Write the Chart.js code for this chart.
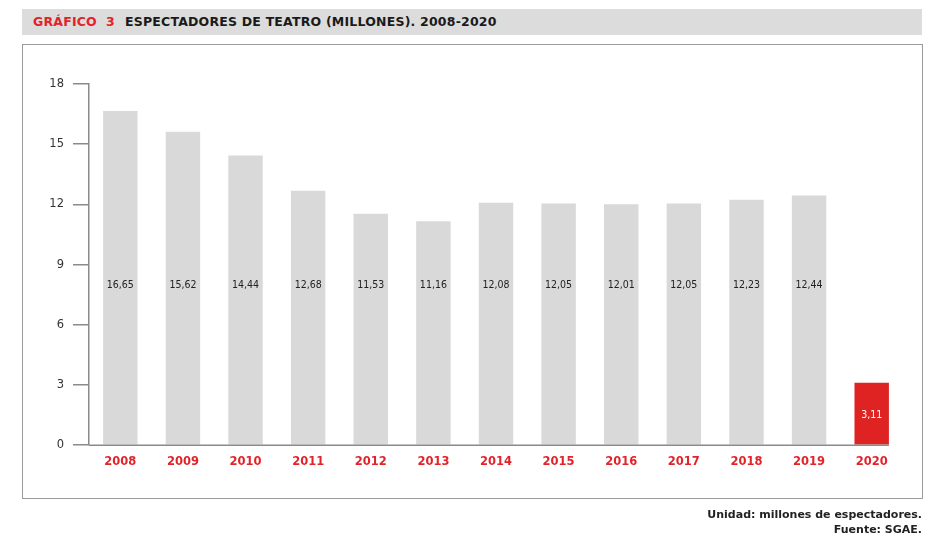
<!DOCTYPE html>
<html>
<head>
<meta charset="utf-8">
<script src="https://cdn.jsdelivr.net/npm/chart.js@4.4.0/dist/chart.umd.min.js"></script>
<style>
  body { margin: 0; width: 945px; height: 540px; background: #fff; position: relative; font-family: "DejaVu Sans", sans-serif; overflow: hidden; }
  #title { position: absolute; left: 22px; top: 9px; width: 900px; height: 26px; background: #dcdcdc; }
  #title span { position: absolute; top: 5px; font-size: 12.5px; font-weight: bold; letter-spacing: 0.2px; }
  #box { position: absolute; left: 22px; top: 44px; height: 455px; border: 1px solid #9a9a9a; box-sizing: border-box; width: 901px; }
  #chart { position: absolute; left: 0; top: 0; }
  #foot { position: absolute; right: 23px; top: 507px; text-align: right; font-size: 11px; line-height: 15px; color: #222; font-weight: 600; }
</style>
</head>
<body>
<div id="title">
  <span style="left:11px;color:#e2232a">GRÁFICO&nbsp;&nbsp;3</span>
  <span style="left:103px;color:#1a1a1a">ESPECTADORES DE TEATRO (MILLONES). 2008-2020</span>
</div>
<div id="box"></div>
<canvas id="chart" width="945" height="540"></canvas>
<div id="foot">Unidad: millones de espectadores.<br>Fuente: SGAE.</div>
<script>
// Data
const years = ["2008", "2009", "2010", "2011", "2012", "2013", "2014", "2015", "2016", "2017", "2018", "2019", "2020"];
const spectators = [16.65, 15.62, 14.44, 12.68, 11.53, 11.16, 12.08, 12.05, 12.01, 12.05, 12.23, 12.44, 3.11];
const yTicks = [0, 3, 6, 9, 12, 15, 18];

const gray = "#d9d9d9";
const red = "#de2322";
const barColors = years.map((y) => (y === "2020" ? red : gray));

// Value labels: fixed height, or inside the bar if it's too short
const valueLabels = {
  id: "valueLabels",
  afterDatasetsDraw(chart) {
    const ctx = chart.ctx;
    const yScale = chart.scales.y;
    const meta = chart.getDatasetMeta(0);
    ctx.save();
    ctx.font = "10.5px 'DejaVu Sans Condensed', 'DejaVu Sans', sans-serif";
    ctx.textAlign = "center";
    ctx.textBaseline = "middle";
    meta.data.forEach((bar, i) => {
      const v = spectators[i];
      let y = yScale.getPixelForValue(7.95);
      let color = "#222";
      if (v < 9) {
        y = (bar.y + bar.base) / 2 + 2;
        color = "#fff";
      }
      ctx.fillStyle = color;
      ctx.fillText(v.toFixed(2).replace(".", ","), bar.x, y);
    });
    ctx.restore();
  },
};

// Bottom axis line that stops at the last bar
const baseLine = {
  id: "baseLine",
  afterDatasetsDraw(chart) {
    const ctx = chart.ctx;
    const meta = chart.getDatasetMeta(0);
    const last = meta.data[meta.data.length - 1];
    const y0 = chart.scales.y.getPixelForValue(0);
    ctx.save();
    ctx.strokeStyle = "#8a8a8a";
    ctx.lineWidth = 1.5;
    ctx.beginPath();
    ctx.moveTo(chart.chartArea.left, y0);
    ctx.lineTo(last.x + last.width / 2, y0);
    ctx.stroke();
    ctx.restore();
  },
};

new Chart(document.getElementById("chart").getContext("2d"), {
  type: "bar",
  data: {
    labels: years,
    datasets: [
      {
        data: spectators,
        backgroundColor: barColors,
        barPercentage: 0.55,
        categoryPercentage: 1,
      },
    ],
  },
  options: {
    responsive: false,
    animation: false,
    layout: { padding: { left: 30, right: 42, top: 84, bottom: 69 } },
    plugins: { legend: { display: false }, tooltip: { enabled: false } },
    scales: {
      x: {
        grid: { display: false },
        border: { display: false },
        ticks: {
          color: "#e2232a",
          font: { family: "DejaVu Sans", size: 11.5, weight: "bold" },
          padding: 2,
        },
      },
      y: {
        min: 0,
        max: 18,
        afterFit: (scale) => { scale.width = 59; },
        afterBuildTicks: (scale) => { scale.ticks = yTicks.map((v) => ({ value: v })); },
        grid: {
          drawOnChartArea: false,
          tickLength: 16,
          tickColor: "#8a8a8a",
          lineWidth: 1.5,
        },
        border: { color: "#8a8a8a", width: 1.5 },
        ticks: {
          color: "#333",
          font: { family: "DejaVu Sans", size: 11.5 },
          padding: 9,
        },
      },
    },
  },
  plugins: [valueLabels, baseLine],
});
</script>
</body>
</html>
